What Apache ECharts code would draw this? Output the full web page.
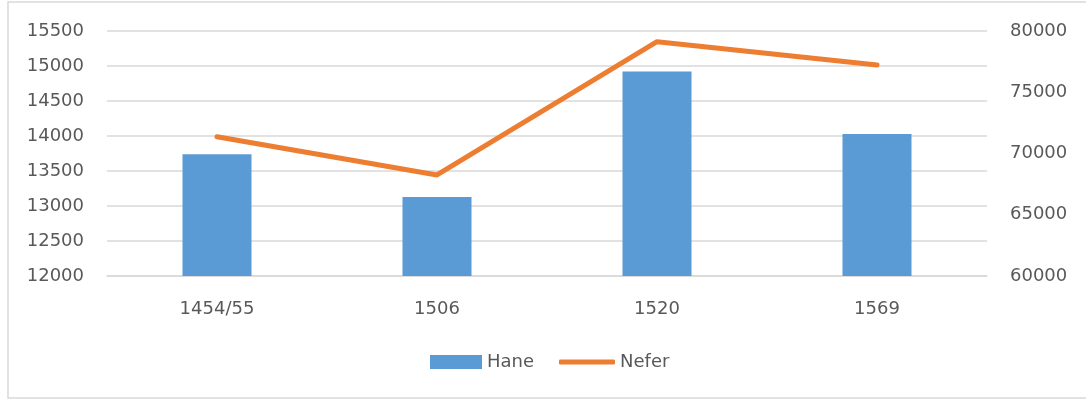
<!DOCTYPE html>
<html>
<head>
<meta charset="utf-8">
<script src="https://cdn.jsdelivr.net/npm/echarts@6/dist/echarts.min.js"></script>
<style>
  html, body { margin: 0; padding: 0; background: #fff; }
  #main { width: 1086px; height: 403px; }
</style>
</head>
<body>
<div id="main"></div>
<script>
const years = ['1454/55', '1506', '1520', '1569']
const hane = [13740, 13130, 14920, 14030]
const nefer = [71370, 68250, 79130, 77220]

const textColor = '#595959'
const font = 'DejaVu Sans'

let chart = echarts.init(document.getElementById('main'))

const plain = (v) => String(v)

let option = {
    backgroundColor: '#fff',
    textStyle: { fontFamily: font },
    animation: false,
    graphic: [{
        type: 'rect',
        shape: { x: 8, y: 2, width: 1090, height: 396 },
        style: { fill: 'none', stroke: '#d9d9d9', lineWidth: 1.5 },
        z: -1
    }],
    grid: { left: 107, right: 99, top: 31, bottom: 127 },
    legend: [
        {
            data: [{ name: 'Hane', icon: 'rect' }],
            left: 425, top: 348,
            itemWidth: 52, itemHeight: 14,
            textStyle: { color: textColor, fontSize: 18, fontFamily: font }
        },
        {
            data: [{ name: 'Nefer', icon: 'roundRect' }],
            left: 554, top: 348,
            itemWidth: 56, itemHeight: 5,
            textStyle: { color: textColor, fontSize: 18, fontFamily: font }
        }
    ],
    xAxis: {
        type: 'category',
        data: years,
        axisLine: { show: true, lineStyle: { color: '#d9d9d9', width: 1.5 } },
        axisTick: { show: false },
        axisLabel: { color: textColor, fontSize: 18, margin: 24 }
    },
    yAxis: [
        {
            type: 'value',
            min: 12000, max: 15500, interval: 500,
            axisLine: { show: false },
            axisTick: { show: false },
            splitLine: { lineStyle: { color: '#d9d9d9', width: 1.5 } },
            axisLabel: { color: textColor, fontSize: 18, margin: 23, formatter: plain }
        },
        {
            type: 'value',
            min: 60000, max: 80000, interval: 5000,
            axisLine: { show: false },
            axisTick: { show: false },
            splitLine: { show: false },
            axisLabel: { color: textColor, fontSize: 18, margin: 23, formatter: plain }
        }
    ],
    series: [
        {
            name: 'Hane',
            type: 'bar',
            data: hane,
            barWidth: 69,
            itemStyle: { color: '#5B9BD5' }
        },
        {
            name: 'Nefer',
            type: 'line',
            yAxisIndex: 1,
            data: nefer,
            showSymbol: false,
            symbol: 'none',
            itemStyle: { color: '#ED7D31' },
            lineStyle: { color: '#ED7D31', width: 5, cap: 'round', join: 'round' }
        }
    ]
}

chart.setOption(option)
</script>
</body>
</html>
